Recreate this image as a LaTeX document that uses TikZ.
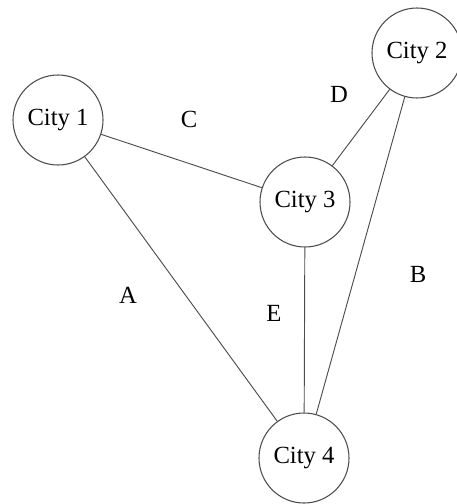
\documentclass[tikz,border=0pt]{standalone}
\usepackage{fontspec}
\setmainfont{Liberation Serif}
\begin{document}
\begin{tikzpicture}[x=0.75pt,y=-0.75pt,
  city/.style={circle,draw=black!70,line width=0.8pt,minimum size=67.5pt,inner sep=0pt,
    font=\fontsize{18.5}{20}\selectfont},
  road/.style={draw=black!70,line width=0.7pt},
  lbl/.style={font=\fontsize{18.5}{20}\selectfont,inner sep=0pt}]
\useasboundingbox (0,0) rectangle (457,504);
\node[city] (c1) at (58,120) {City 1};
\node[city] (c2) at (417,53) {City 2};
\node[city] (c3) at (305,202) {City 3};
\node[city] (c4) at (304,458) {City 4};
\draw[road] (c1) -- (c3);
\draw[road] (c1) -- (c4);
\draw[road] (c2) -- (c3);
\draw[road] (c2) -- (c4);
\draw[road] (c3) -- (c4);
\node[lbl] (lc) at (189,119) {C};
\node[lbl] (ld) at (339,94) {D};
\node[lbl] (la) at (128,295) {A};
\node[lbl] (le) at (274,313) {E};
\node[lbl] (lb) at (418,274) {B};
\end{tikzpicture}
\end{document}
